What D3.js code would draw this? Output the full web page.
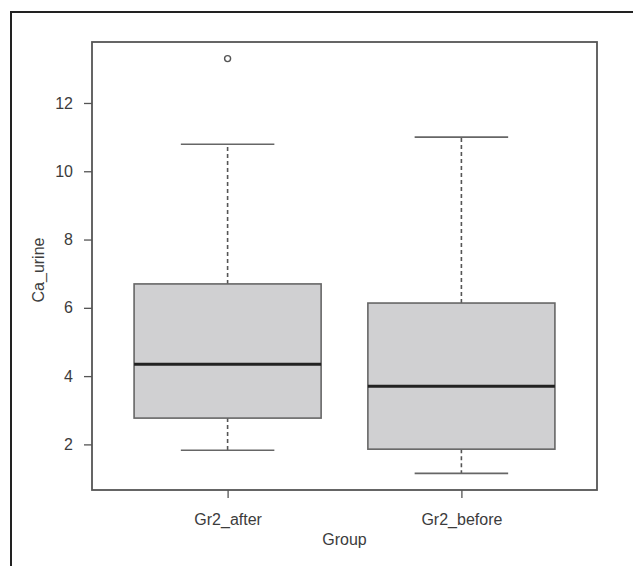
<!DOCTYPE html>
<html>
<head>
<meta charset="utf-8">
<script src="https://cdn.jsdelivr.net/npm/d3@7"></script>
<style>
html,body{margin:0;padding:0;background:#fff;}
text{font-family:"Liberation Sans",Arial,sans-serif;fill:#3c3c3c;}
</style>
</head>
<body>
<svg id="chart" width="633" height="566"></svg>
<script>
// Data
const groups = ["Gr2_after", "Gr2_before"];
const lowerWhisker = [1.83, 1.15];
const q1 = [2.77, 1.86];
const medians = [4.35, 3.70];
const q3 = [6.70, 6.14];
const upperWhisker = [10.79, 11.0];
const outliers = [[13.3], []];
const yTicks = [2, 4, 6, 8, 10, 12];
const xTitle = "Group";
const yTitle = "Ca_urine";

const svg = d3.select("#chart");
const W = 633, H = 566;
const plot = {left: 92, right: 597, top: 42, bottom: 490};
const textColor = "#3c3c3c";

// outer frame (left and top edges visible)
svg.append("path")
  .attr("d", `M11,${H} L11,12 L${W},12`)
  .attr("fill", "none").attr("stroke", "#222").attr("stroke-width", 2);

// scales (R-style 4% padding)
const allVals = lowerWhisker.concat(upperWhisker, outliers.flat());
const yMin = d3.min(allVals), yMax = d3.max(allVals);
const pad = (yMax - yMin) * 0.04;
const y = d3.scaleLinear().domain([yMin - pad, yMax + pad]).range([plot.bottom, plot.top]);
const x = d3.scaleLinear().domain([0.5 - 0.08, groups.length + 0.5 + 0.08]).range([plot.left, plot.right]);

// plot box
svg.append("rect")
  .attr("x", plot.left).attr("y", plot.top)
  .attr("width", plot.right - plot.left).attr("height", plot.bottom - plot.top)
  .attr("fill", "none").attr("stroke", "#555").attr("stroke-width", 1.8);

// y axis
const yAxis = d3.axisLeft(y).tickValues(yTicks).tickSize(8).tickPadding(11).tickFormat(d3.format("d"));
const gy = svg.append("g").attr("transform", `translate(${plot.left},0)`).call(yAxis);
gy.select(".domain").remove();
gy.selectAll("line").attr("stroke", "#555").attr("stroke-width", 1.3);
gy.selectAll("text").style("font-size", "16px").attr("fill", textColor)
  .style("font-family", '"Liberation Sans", Arial, sans-serif');

// x axis
const xAxis = d3.axisBottom(x).tickValues(groups.map((g, i) => i + 1))
  .tickFormat((d) => groups[d - 1]).tickSize(8).tickPadding(16);
const gx = svg.append("g").attr("transform", `translate(0,${plot.bottom})`).call(xAxis);
gx.select(".domain").remove();
gx.selectAll("line").attr("stroke", "#555").attr("stroke-width", 1.3);
gx.selectAll("text").style("font-size", "16px").attr("fill", textColor)
  .style("font-family", '"Liberation Sans", Arial, sans-serif');

// titles
svg.append("text").attr("x", (plot.left + plot.right) / 2).attr("y", 545)
  .attr("text-anchor", "middle").attr("fill", textColor).style("font-size", "16px").text(xTitle);
svg.append("g").style("opacity", 0.99)
  .append("text").attr("transform", `translate(44,${(plot.top + plot.bottom) / 2 + 4}) rotate(-90)`)
  .attr("text-anchor", "middle").attr("fill", textColor).style("fill", textColor)
  .style("font-size", "16px").text(yTitle);

// boxes
const boxHalf = 0.4, capHalf = 0.2;
groups.forEach((g, i) => {
  const c = i + 1;
  const gg = svg.append("g");
  // whiskers (dashed)
  gg.append("line").attr("x1", x(c)).attr("x2", x(c))
    .attr("y1", y(q3[i])).attr("y2", y(upperWhisker[i]))
    .attr("stroke", "#555").attr("stroke-width", 1.6).attr("stroke-dasharray", "4,3");
  gg.append("line").attr("x1", x(c)).attr("x2", x(c))
    .attr("y1", y(q1[i])).attr("y2", y(lowerWhisker[i]))
    .attr("stroke", "#555").attr("stroke-width", 1.6).attr("stroke-dasharray", "4,3");
  // caps
  [upperWhisker[i], lowerWhisker[i]].forEach(v => {
    gg.append("line").attr("x1", x(c - capHalf)).attr("x2", x(c + capHalf))
      .attr("y1", y(v)).attr("y2", y(v))
      .attr("stroke", "#666").attr("stroke-width", 1.6);
  });
  // box
  gg.append("rect").attr("x", x(c - boxHalf)).attr("y", y(q3[i]))
    .attr("width", x(c + boxHalf) - x(c - boxHalf)).attr("height", y(q1[i]) - y(q3[i]))
    .attr("fill", "#d0d0d2").attr("stroke", "#666").attr("stroke-width", 1.6);
  // median
  gg.append("line").attr("x1", x(c - boxHalf)).attr("x2", x(c + boxHalf))
    .attr("y1", y(medians[i])).attr("y2", y(medians[i]))
    .attr("stroke", "#222").attr("stroke-width", 3);
  // outliers
  outliers[i].forEach(v => {
    gg.append("circle").attr("cx", x(c)).attr("cy", y(v)).attr("r", 3)
      .attr("fill", "none").attr("stroke", "#555").attr("stroke-width", 1.4);
  });
});
</script>
</body>
</html>
